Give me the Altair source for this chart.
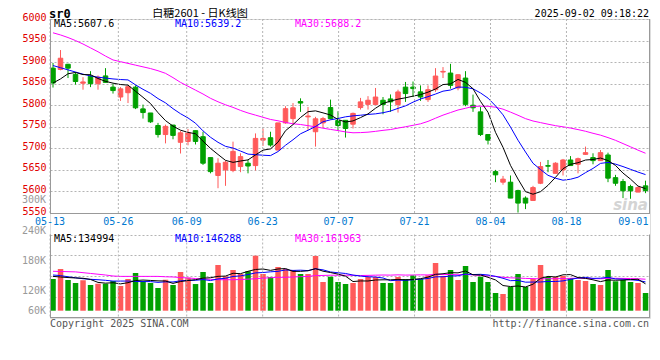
import altair as alt
import pandas as pd

# ---------------- data ----------------
open_ = [5886, 5883, 5895, 5871.5, 5851, 5867, 5850, 5868, 5842, 5819,
         5829, 5842, 5791.5, 5782, 5753, 5732, 5754, 5714, 5716, 5741,
         5727, 5678.5, 5637, 5650, 5648.5, 5657.7, 5665.5, 5660, 5719, 5724.6,
         5696, 5759, 5769, 5808.5, 5773, 5738.5, 5759, 5794.6, 5764.6, 5765,
         5756, 5794.6, 5802, 5801.5, 5811.5, 5814.6, 5801.5, 5842, 5842, 5831,
         5813, 5836, 5877, 5874.6, 5840, 5863, 5800, 5784.6, 5732, 5646,
         5621.5, 5621.5, 5602, 5584.6, 5579, 5619, 5660, 5642, 5650, 5673,
         5663, 5686, 5678.5, 5671.5, 5684.6, 5632, 5623, 5611.5, 5598.5, 5613]
high = [5898, 5928, 5896, 5877, 5865, 5879, 5869, 5886, 5850, 5842,
        5845, 5846, 5801.5, 5782, 5759, 5755, 5754, 5740, 5745, 5741,
        5738.5, 5678.5, 5677, 5671.5, 5715.5, 5688.5, 5673, 5734.6, 5746, 5738.5,
        5759, 5797.7, 5805, 5816, 5796, 5773, 5773, 5813, 5786, 5765,
        5783, 5817, 5821, 5840, 5819, 5825, 5836, 5854, 5855, 5846,
        5846, 5886, 5888.5, 5896, 5872, 5879, 5824.6, 5796, 5732, 5650,
        5636, 5637, 5604, 5588.5, 5613, 5668.5, 5673, 5667.7, 5675.4, 5682,
        5678.5, 5704, 5688.5, 5696, 5690, 5638.5, 5629, 5615.6, 5611.5, 5625]
low = [5841, 5881, 5863, 5848, 5836, 5842, 5836, 5853, 5827, 5810,
       5805, 5791, 5769, 5759, 5725, 5711.5, 5721, 5688, 5707, 5709,
       5661.5, 5642, 5607.5, 5613, 5644.6, 5644.6, 5642, 5648.5, 5705.6, 5704,
       5696, 5757, 5757, 5784.6, 5742, 5704, 5747.7, 5767, 5742, 5725,
       5746, 5790, 5790, 5801.5, 5779, 5784.6, 5783, 5807.7, 5819, 5810,
       5807.7, 5831, 5863, 5838.5, 5834.6, 5797.7, 5784.6, 5728.5, 5709, 5621.5,
       5615.6, 5584.6, 5551, 5559, 5579, 5617, 5644.6, 5642, 5637, 5660,
       5642, 5684.6, 5663, 5671.5, 5621.5, 5613, 5584.6, 5583, 5598.5, 5596]
close = [5851.5, 5909, 5886, 5855, 5854, 5850, 5865, 5853, 5834, 5838,
         5843, 5794, 5783, 5761.5, 5732, 5751, 5730, 5736, 5736, 5716,
         5665.5, 5646, 5665.5, 5667.7, 5693, 5680.8, 5659, 5723, 5723, 5707.7,
         5759, 5792, 5794, 5805, 5775, 5768.5, 5769, 5769, 5753, 5746,
         5781, 5807.7, 5811.5, 5819, 5801.5, 5807.7, 5830.8, 5827, 5838.5, 5819,
         5836, 5867.7, 5878.5, 5846, 5870.8, 5802, 5794, 5732, 5719, 5638.5,
         5628.5, 5584.6, 5573, 5573, 5609, 5657.7, 5658.5, 5665.5, 5673, 5660,
         5676, 5690, 5671.5, 5690, 5630.8, 5619, 5601.5, 5601.5, 5609, 5602]
volume_k = [161.7, 212.7, 156.6, 141.3, 155, 131, 137.7, 137.7, 151.5, 126,
            161.7, 192.3, 150, 141.3, 115.8, 158, 131, 197.4, 168.3, 136,
            197.4, 141.3, 233, 175.4, 207.6, 187.2, 201, 280.5, 187.2, 171.9,
            222.9, 212.7, 207.6, 187.2, 187.2, 279, 146.4, 173.4, 146.4, 136.2,
            141.3, 161.7, 171.9, 171.9, 141.3, 141.3, 171.9, 161.7, 180.5, 161.7,
            180.5, 243.3, 177, 207.6, 156.6, 228, 146.4, 173.4, 146.4, 90.3,
            85.2, 120.9, 187.2, 120.9, 161.7, 233, 171.9, 171.9, 177, 166.8,
            156.6, 151.5, 136.2, 131, 207.6, 150, 156.6, 146.4, 141.3, 90.3]
ma5 = [5851.5, 5861, 5873, 5876, 5871.1, 5870.8, 5862, 5855.4, 5851.2, 5848,
       5846.6, 5832.4, 5818.4, 5803.9, 5782.7, 5764.3, 5751.5, 5742.1, 5737, 5733.8,
       5716.7, 5699.9, 5685.8, 5672.1, 5667.5, 5670.6, 5673.2, 5684.7, 5695.8, 5698.7,
       5714.3, 5740.9, 5755.1, 5771.5, 5785, 5786.9, 5782.3, 5777.3, 5766.9, 5761.1,
       5763.6, 5771.3, 5779.8, 5793, 5804.1, 5809.5, 5814.1, 5817.2, 5821.1, 5824.6,
       5830.3, 5837.6, 5847.9, 5849.4, 5859.8, 5853, 5838.3, 5809, 5783.6, 5737.1,
       5702.4, 5660.5, 5628.7, 5599.5, 5593.6, 5599.5, 5614.2, 5632.7, 5652.7, 5662.9,
       5666.6, 5672.9, 5674.1, 5677.5, 5671.7, 5660.3, 5642.6, 5628.6, 5612.4, 5606.6]
ma10 = [5892, 5887, 5882, 5877, 5872, 5868, 5865, 5863, 5861, 5859.6,
        5858.7, 5847.2, 5836.9, 5827.6, 5815.4, 5805.5, 5792, 5780.3, 5770.5, 5758.3,
        5740.5, 5725.7, 5714, 5704.6, 5700.7, 5693.7, 5686.6, 5685.3, 5684, 5683.1,
        5692.5, 5707.1, 5719.9, 5733.7, 5741.9, 5750.6, 5761.6, 5766.2, 5769.2, 5773.1,
        5775.3, 5776.8, 5778.6, 5780, 5782.6, 5786.5, 5792.7, 5798.5, 5807.1, 5814.4,
        5819.9, 5825.9, 5832.6, 5835.3, 5842.2, 5841.6, 5838, 5828.5, 5816.5, 5798.5,
        5777.7, 5749.4, 5718.8, 5691.5, 5665.4, 5650.9, 5637.4, 5630.7, 5626.1, 5628.3,
        5633, 5643.6, 5653.4, 5665.1, 5667.3, 5663.4, 5657.7, 5651.3, 5644.9, 5639.1]
ma30 = [5968, 5963, 5957, 5950, 5942, 5933, 5924, 5914, 5905, 5901,
        5897, 5893, 5889, 5885, 5880, 5874, 5864, 5853, 5844, 5835,
        5826, 5816, 5808, 5801, 5795, 5788, 5782, 5777, 5772, 5767,
        5763.9, 5760, 5756.9, 5755.3, 5752.6, 5749.9, 5746.7, 5743.9, 5741.2, 5738.1,
        5736.1, 5736.5, 5737.5, 5739.4, 5741.7, 5743.6, 5747, 5750, 5753.4, 5756.9,
        5762.5, 5769.9, 5777, 5783, 5788.9, 5792.9, 5797.4, 5797.7, 5797.6, 5795.3,
        5790.9, 5784, 5776.7, 5768.9, 5763.4, 5759.7, 5756, 5752.6, 5749.9, 5747,
        5743.5, 5739.6, 5734.9, 5730.6, 5724.9, 5718.6, 5711, 5703.5, 5695.8, 5688.6]
vma5_k = [175, 172, 169, 167, 165.5, 159.3, 144.3, 140.5, 142.6, 136.8,
          142.9, 153.8, 156.3, 154.3, 152.2, 151.5, 139.2, 148.7, 154.1, 158.1,
          166, 168.1, 175.2, 176.6, 190.9, 188.9, 200.8, 210.3, 212.7, 205.6,
          212.7, 215, 200.5, 200.5, 203.5, 214.7, 201.5, 194.6, 186.5, 176.3,
          148.7, 151.8, 151.5, 156.6, 157.6, 157.6, 159.7, 157.6, 159.3, 163.4,
          171.3, 185.5, 188.6, 194, 193, 202.5, 183.1, 182.4, 170.2, 156.9,
          128.3, 123.2, 126, 120.9, 135.2, 164.7, 174.9, 171.9, 183.1, 184.1,
          168.8, 164.8, 157.6, 148.4, 156.6, 155.3, 156.3, 158.3, 160.4, 136.9]
vma10_k = [182, 179, 173, 168, 163, 160, 158, 155, 151, 151.1,
           151.1, 149.1, 148.4, 148.4, 144.5, 147.2, 146.5, 152.5, 154.2, 155.2,
           158.8, 153.7, 162, 165.4, 174.5, 177.5, 184.5, 192.8, 194.7, 198.3,
           200.8, 207.9, 205.4, 206.6, 204.5, 213.7, 208.3, 197.6, 193.5, 189.9,
           181.7, 176.6, 173.1, 171.5, 167, 153.2, 155.7, 154.6, 158, 160.5,
           164.4, 172.6, 173.1, 176.7, 178.2, 186.9, 184.3, 185.5, 182.1, 175,
           165.4, 153.2, 154.2, 145.5, 146, 146.5, 149.1, 148.9, 152, 159.7,
           166.8, 169.9, 164.8, 165.8, 170.4, 162, 160.5, 158, 154.4, 146.8]
vma30_k = [201, 200, 199, 198, 194, 190, 186, 182, 177, 175,
           175, 175, 175, 175, 175, 173, 172, 169, 167, 164,
           162, 160, 158, 158, 158, 159, 161, 163, 166, 168.2,
           170.2, 170.2, 171.9, 173.5, 174.5, 179.5, 179.8, 180.9, 180.8, 181.1,
           180.4, 179.4, 180.1, 181.2, 182, 181.5, 182.8, 181.6, 182, 182.9,
           182.3, 185.7, 183.9, 184.9, 183.2, 184.6, 182.8, 179.2, 177.8, 175.1,
           170.5, 167.5, 166.8, 164.6, 163.7, 162.2, 163.1, 163, 164, 165,
           165.6, 165.2, 164, 162.7, 164.9, 165.2, 164.6, 164.1, 162.8, 160.5]

date_tick_idx = [0, 9, 18, 28, 38, 48, 58, 68, 78]
date_tick_labels = ["05-13", "05-26", "06-09", "06-23", "07-07", "07-21", "08-04", "08-18", "09-01"]
price_ticks = [5550, 5600, 5650, 5700, 5750, 5800, 5850, 5900, 5950, 6000]
vol_tick_labels = ["300K", "240K", "180K", "120K", "60K"]
price_ma_labels = ["MA5:5607.6", "MA10:5639.2", "MA30:5688.2"]
vol_ma_labels = ["MA5:134994", "MA10:146288", "MA30:161963"]

# ---------------- layout / style ----------------
MONO = "DejaVu Sans Mono"
CJK = "Noto Sans CJK SC"
RED, GREEN = "#ff5a5a", "#00a000"
GRID = "#b4b4b4"
FRAME = "#999999"
PW, PH = 600, 299          # plot area (both panels)
P_BOT = 194                # bottom of price panel (px)
V_TOP, V_BOT = 215.5, 299  # volume panel (px)
K_PER_PX = 5100            # volume units per pixel
V_ZERO = 291.7             # pixel row of zero volume
VMIN = -(V_BOT - V_ZERO) * K_PER_PX
VMAX = (V_ZERO - V_TOP) * K_PER_PX
VOL_LABEL_Y = [181, 211.7, 242, 271.5, 291.5]

n = len(close)
df = pd.DataFrame({
    "i": list(range(n)), "open": open_, "high": high, "low": low, "close": close,
    "vol": [v * 1000 for v in volume_k],
    "ma5": ma5, "ma10": ma10, "ma30": ma30,
    "vma5": [v * 1000 for v in vma5_k], "vma10": [v * 1000 for v in vma10_k],
    "vma30": [v * 1000 for v in vma30_k],
})
df["dir"] = ["up" if c >= o else "down" for o, c in zip(open_, close)]

xs = alt.Scale(domain=[0, n], nice=False, zero=False)
ys_p = alt.Scale(domain=[5550, 6000], range=[P_BOT, 0], nice=False, zero=False)
ys_v = alt.Scale(domain=[VMIN, VMAX], range=[V_BOT, V_TOP], nice=False, zero=False)
cs = alt.Scale(domain=["up", "down"], range=[RED, GREEN])

price_axis = alt.Axis(values=price_ticks, format="d", orient="left", title=None, domain=False,
                      ticks=False, labelColor="#e00000", labelFont=MONO, labelFontSize=10,
                      labelPadding=4, labelOffset=-2, labelFlush=False, labelOverlap=False,
                      grid=True, gridColor=GRID, gridDash=[2, 2], gridWidth=1)
vol_axis = alt.Axis(values=[VMIN + (VMAX - VMIN) * f for f in (0.25, 0.5, 0.75, 1.0)],
                    orient="left", title=None, domain=False, ticks=False, labels=False,
                    grid=True, gridColor=GRID, gridDash=[2, 2], gridWidth=1)

base = alt.Chart(df).transform_calculate(
    x0="datum.i + 0.1", x1="datum.i + 0.7", xc="datum.i + 0.4",
    vx0="datum.i + 0.04", vx1="datum.i + 0.77")

wicks = base.mark_rule(strokeWidth=1).encode(
    x=alt.X("xc:Q", scale=xs, axis=None),
    y=alt.Y("low:Q", scale=ys_p, axis=price_axis), y2="high:Q",
    color=alt.Color("dir:N", scale=cs, legend=None))
bodies = base.mark_rect(strokeWidth=1).encode(
    x=alt.X("x0:Q", scale=xs, axis=None), x2="x1:Q",
    y=alt.Y("open:Q", scale=ys_p, axis=price_axis), y2="close:Q",
    fill=alt.Fill("dir:N", scale=cs, legend=None),
    stroke=alt.Stroke("dir:N", scale=cs, legend=None))


def pline(field, color, scale, axis):
    return base.mark_line(color=color, strokeWidth=1).encode(
        x=alt.X("xc:Q", scale=xs, axis=None),
        y=alt.Y(f"{field}:Q", scale=scale, axis=axis))


price_layer = alt.layer(wicks, bodies,
                        pline("ma30", "#ff00ff", ys_p, price_axis),
                        pline("ma10", "#0000ff", ys_p, price_axis),
                        pline("ma5", "#000000", ys_p, price_axis))

vbars = base.mark_rect().encode(
    x=alt.X("vx0:Q", scale=xs, axis=None), x2="vx1:Q",
    y=alt.Y("vol:Q", scale=ys_v, axis=vol_axis), y2=alt.datum(0),
    fill=alt.Fill("dir:N", scale=cs, legend=None))
vol_layer = alt.layer(vbars,
                      pline("vma30", "#ff00ff", ys_v, vol_axis),
                      pline("vma10", "#0000ff", ys_v, vol_axis),
                      pline("vma5", "#000000", ys_v, vol_axis))

one = pd.DataFrame({"k": [0]})


def txt(s, x, y, color="#000000", size=10, align="left", font=MONO, weight="normal", style="normal"):
    return alt.Chart(one).mark_text(text=s, align=align, baseline="middle", color=color,
                                    fontSize=size, font=font, fontWeight=weight,
                                    fontStyle=style).encode(x=alt.value(x), y=alt.value(y))


def hline(x1, x2, y, color=FRAME):
    return alt.Chart(one).mark_rule(color=color, strokeWidth=1).encode(
        x=alt.value(x1), x2=alt.value(x2), y=alt.value(y))


def vline(x, y1, y2, color=FRAME):
    return alt.Chart(one).mark_rule(color=color, strokeWidth=1).encode(
        x=alt.value(x), y=alt.value(y1), y2=alt.value(y2))


ticks_df = pd.DataFrame({"idx": date_tick_idx, "label": date_tick_labels})
grid_src = alt.Chart(ticks_df.iloc[:-1]).transform_calculate(gx="datum.idx * 80 / 79")
vgrid_p = grid_src.mark_rule(color=GRID, strokeDash=[2, 2], strokeWidth=1).encode(
    x=alt.X("gx:Q", scale=xs, axis=None), y=alt.value(0), y2=alt.value(P_BOT))
vgrid_v = grid_src.mark_rule(color=GRID, strokeDash=[2, 2], strokeWidth=1).encode(
    x=alt.X("gx:Q", scale=xs, axis=None), y=alt.value(V_TOP), y2=alt.value(V_BOT))
date_txt = grid_src.mark_text(align="center", baseline="middle", font=MONO, fontSize=10,
                              color="#0078d0").encode(
    x=alt.X("gx:Q", scale=xs, axis=None), y=alt.value(203), text="label:N")
date_last = alt.Chart(ticks_df.iloc[-1:]).transform_calculate(gx="datum.idx * 80 / 79").mark_text(
    align="right", baseline="middle", font=MONO, fontSize=10, color="#0078d0", dx=6).encode(
    x=alt.X("gx:Q", scale=xs, axis=None), y=alt.value(203), text="label:N")

decor = [vgrid_p, vgrid_v,
         vline(0.5, 0, P_BOT + 0.5), vline(599.5, 0, P_BOT + 0.5), hline(0, 600, P_BOT + 0.5),
         vline(0.5, V_TOP, V_BOT), vline(599.5, V_TOP, V_BOT), hline(0, 600, V_BOT - 0.5),
         date_txt, date_last]

ma_colors = ["#000000", "#0000ff", "#ff00ff"]
ma_x = [4, 125, 245]
texts = []
for s, c, x in zip(price_ma_labels, ma_colors, ma_x):
    texts.append(txt(s, x, 4.5, color=c))
for s, c, x in zip(vol_ma_labels, ma_colors, ma_x):
    texts.append(txt(s, x, 219.5, color=c))
for s, y in zip(vol_tick_labels, VOL_LABEL_Y):
    texts.append(txt(s, -4, y, color="#999999", align="right"))
texts += [
    txt("sr0", -1, -5.5, size=12, weight="bold"),
    txt("白糖2601 - 日K线图", 150, -5.5, size=11, align="center", font=CJK),
    txt("2025-09-02 09:18:22", 599, -5.5, align="right"),
    txt("Copyright 2025 SINA.COM", 0, 304.5, color="#555555"),
    txt("http://finance.sina.com.cn", 599, 304.5, color="#555555", align="right"),
    txt("sina", 598, 186, color="#d4d4d4", size=15, align="right", font="DejaVu Sans",
        weight="bold", style="italic"),
]

chart = alt.layer(price_layer, vol_layer, *decor, *texts).resolve_scale(
    y="independent", fill="shared", stroke="shared", color="shared"
).properties(
    width=PW, height=PH,
    autosize=alt.AutoSizeParams(type="none"),
    padding={"left": 42, "top": 11, "right": 2, "bottom": 20},
).configure_view(stroke=None).configure(background="white")

chart.save("out.html", embed_options={"renderer": "svg", "actions": False})
